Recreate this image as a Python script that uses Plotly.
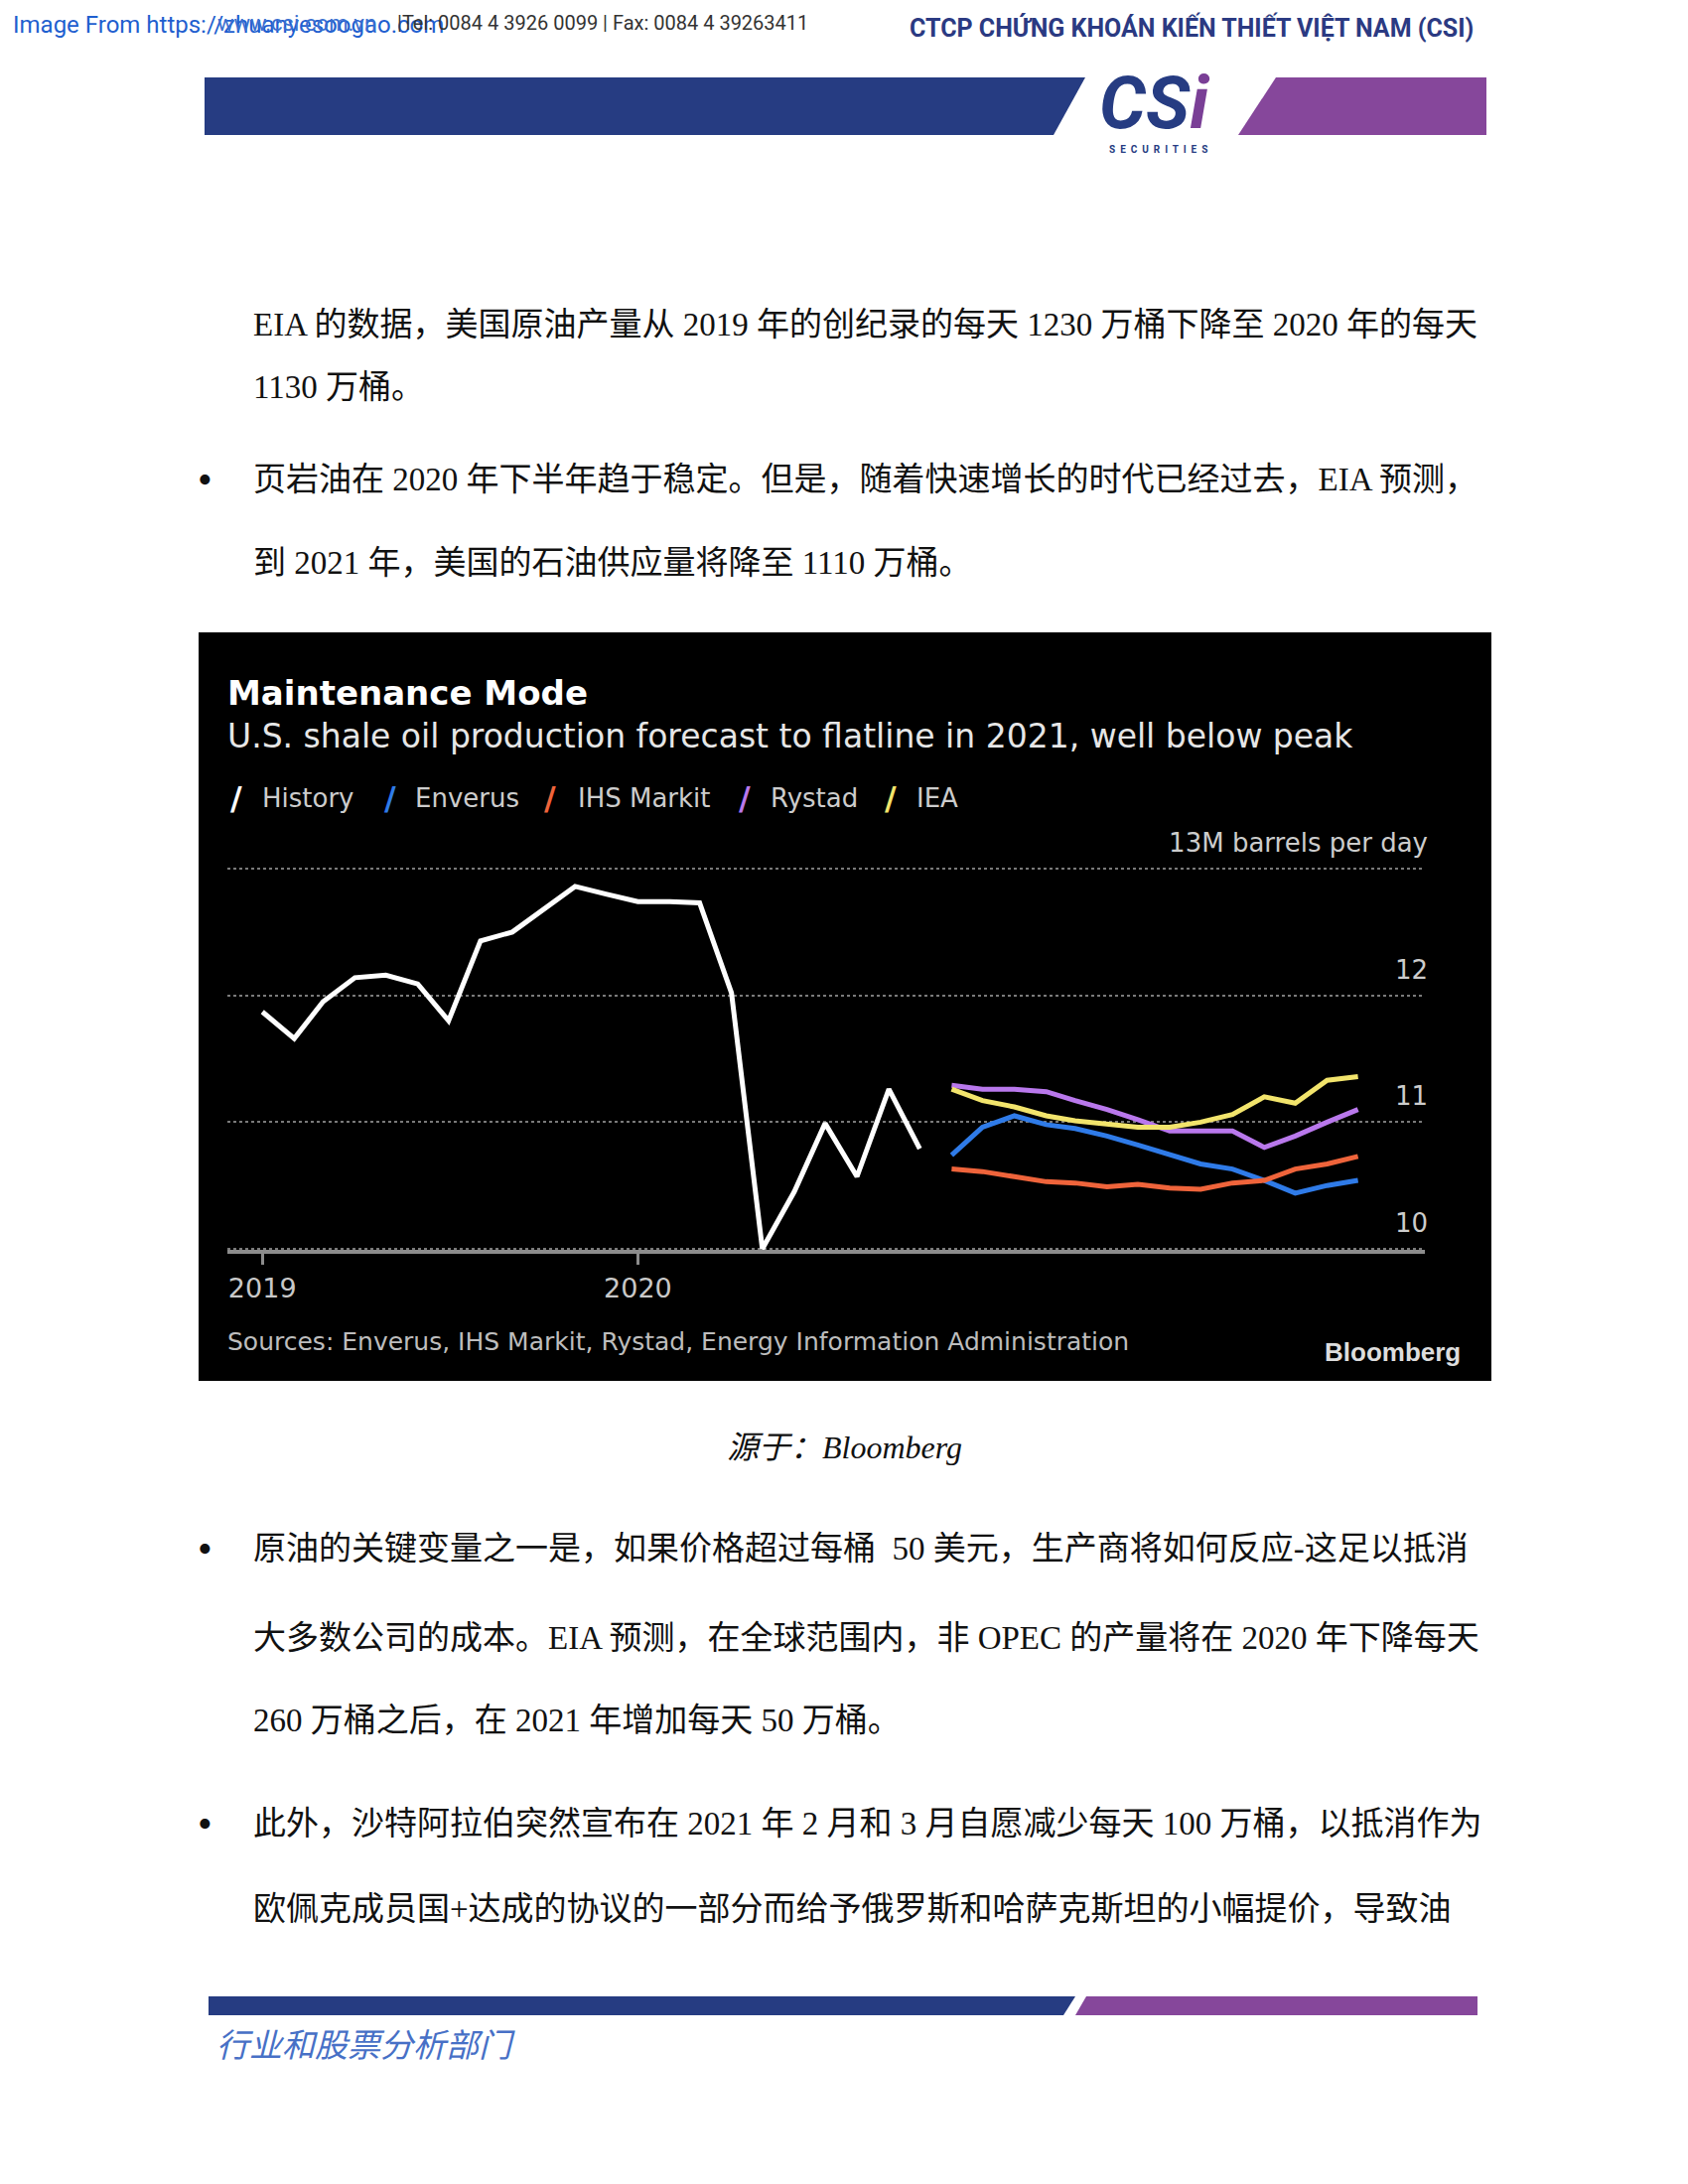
import plotly.graph_objects as go

W, H = 1700, 2200

# ---------------- data ----------------
hist_months = ["2019-01-01", "2019-02-01", "2019-03-01", "2019-04-01", "2019-05-01", "2019-06-01",
               "2019-07-01", "2019-08-01", "2019-09-01", "2019-10-01", "2019-11-01", "2019-12-01",
               "2020-01-01", "2020-02-01", "2020-03-01", "2020-04-01", "2020-05-01", "2020-06-01",
               "2020-07-01", "2020-08-01", "2020-09-01", "2020-10-01"]
history = [11.87, 11.66, 11.95, 12.14, 12.16, 12.09, 11.80, 12.43, 12.50, 12.68, 12.86, 12.80,
           12.74, 12.74, 12.73, 12.02, 10.00, 10.45, 10.99, 10.57, 11.26, 10.79]

fc_months = ["2020-11-01", "2020-12-01", "2021-01-01", "2021-02-01", "2021-03-01", "2021-04-01",
             "2021-05-01", "2021-06-01", "2021-07-01", "2021-08-01", "2021-09-01", "2021-10-01",
             "2021-11-01", "2021-12-01"]
enverus = [10.74, 10.96, 11.05, 10.98, 10.95, 10.89, 10.82, 10.74, 10.67, 10.63, 10.54, 10.44, 10.50, 10.54]
ihs_markit = [10.63, 10.61, 10.57, 10.53, 10.52, 10.49, 10.51, 10.48, 10.47, 10.52, 10.54, 10.63, 10.67, 10.73]
rystad = [11.29, 11.26, 11.26, 11.24, 11.17, 11.10, 11.02, 10.93, 10.93, 10.93, 10.80, 10.89, 11.00, 11.10]
iea = [11.26, 11.17, 11.12, 11.05, 11.01, 10.98, 10.96, 10.96, 11.00, 11.06, 11.20, 11.15, 11.33, 11.36]

series_names = ["History", "Enverus", "IHS Markit", "Rystad", "IEA"]
series_colors = ["#ffffff", "#2f7be8", "#ef643b", "#b978ec", "#f2e46c"]

y_tickvals = [10, 11, 12, 13]
y_ticktext = ["10", "11", "12", "13M barrels per day"]
x_tickvals = ["2019-01-01", "2020-01-01"]
x_ticktext = ["2019", "2020"]

# ---------------- helpers ----------------
def px(x):
    return x / W


def py(y):
    return 1 - y / H


def path(points):
    return "M " + " L ".join(f"{px(x):.5f},{py(y):.5f}" for x, y in points) + " Z"


CH_FONT = "DejaVu Sans, Verdana, sans-serif"
BODY_FONT = "Liberation Serif, Noto Sans CJK SC, serif"
HEAD_FONT = "Liberation Sans Narrow, Roboto, sans-serif"

fig = go.Figure()

series_x = [hist_months, fc_months, fc_months, fc_months, fc_months]
series_y = [history, enverus, ihs_markit, rystad, iea]
for name, col, xs, ys in zip(series_names, series_colors, series_x, series_y):
    fig.add_trace(go.Scatter(x=xs, y=ys, mode="lines", name=name,
                             line=dict(color=col, width=5),
                             showlegend=False, hoverinfo="skip"))

shapes = []
# chart background
shapes.append(dict(type="rect", xref="paper", yref="paper", x0=px(200), x1=px(1502),
                   y0=py(1391), y1=py(637), fillcolor="#000000", line=dict(width=0), layer="below"))
NAVY = "#263c82"
PURPLE = "#86479b"
# header bars
shapes.append(dict(type="path", xref="paper", yref="paper", layer="below",
                   path=path([(206, 78), (1093, 78), (1061, 136), (206, 136)]),
                   fillcolor=NAVY, line=dict(width=0)))
shapes.append(dict(type="path", xref="paper", yref="paper", layer="below",
                   path=path([(1285, 78), (1497, 78), (1497, 136), (1247, 136)]),
                   fillcolor=PURPLE, line=dict(width=0)))
# footer bars
shapes.append(dict(type="path", xref="paper", yref="paper", layer="below",
                   path=path([(210, 2011), (1083, 2011), (1071, 2030), (210, 2030)]),
                   fillcolor=NAVY, line=dict(width=0)))
shapes.append(dict(type="path", xref="paper", yref="paper", layer="below",
                   path=path([(1094, 2011), (1488, 2011), (1488, 2030), (1083, 2030)]),
                   fillcolor=PURPLE, line=dict(width=0)))

ann = []


def text(x, y, s, size, color="#111111", family=BODY_FONT, xanchor="left", yanchor="middle"):
    ann.append(dict(x=px(x), y=py(y), xref="paper", yref="paper", text=s, showarrow=False,
                    xanchor=xanchor, yanchor=yanchor,
                    font=dict(size=size, color=color, family=family)))


# header
text(11, 25, "Image From https://zhuanyesoogao.com", 24, "#1f5fcf", HEAD_FONT)
text(217, 23, "www.csi.com.vn", 22, "#3a6fd0", HEAD_FONT)
text(398, 23, "|Tel: 0084 4 3926 0099 | Fax: 0084 4 39263411", 20, "#333333", HEAD_FONT)
text(914, 27, "<b>CTCP CHỨNG KHOÁN KIẾN THIẾT VIỆT NAM (CSI)</b>", 25, "#2b3a82", HEAD_FONT)
text(1163, 104, "<b><i>CS</i><span style='color:#7a3f96'><i>i</i></span></b>", 74, NAVY,
     "Roboto, sans-serif", xanchor="center")
text(1166, 151, "<b>S  E  C  U  R  I  T  I  E  S</b>", 10, NAVY, "Roboto, sans-serif", xanchor="center")

# body text
BS = 33
BUL = 42
text(206, 483, "•", BUL, xanchor="center")
text(206, 1560, "•", BUL, xanchor="center")
text(206, 1837, "•", BUL, xanchor="center")
text(253, 327, "EIA 的数据，美国原油产量从 2019 年的创纪录的每天 1230 万桶下降至 2020 年的每天", BS)
text(253, 390, "1130 万桶。", BS)
text(253, 483, "页岩油在 2020 年下半年趋于稳定。但是，随着快速增长的时代已经过去，EIA 预测，", BS)
text(253, 567, "到 2021 年，美国的石油供应量将降至 1110 万桶。", BS)
text(850, 1458, "<i>源于：Bloomberg</i>", 32, "#111111", xanchor="center")
text(253, 1560, "原油的关键变量之一是，如果价格超过每桶  50 美元，生产商将如何反应-这足以抵消", BS)
text(253, 1650, "大多数公司的成本。EIA 预测，在全球范围内，非 OPEC 的产量将在 2020 年下降每天", BS)
text(253, 1733, "260 万桶之后，在 2021 年增加每天 50 万桶。", BS)
text(253, 1837, "此外，沙特阿拉伯突然宣布在 2021 年 2 月和 3 月自愿减少每天 100 万桶，以抵消作为", BS)
text(253, 1923, "欧佩克成员国+达成的协议的一部分而给予俄罗斯和哈萨克斯坦的小幅提价，导致油", BS)
text(216, 2058, "<i>行业和股票分析部门</i>", 33, "#4770c6", "Noto Sans CJK SC, sans-serif")

# chart texts
text(227, 698, "<b>Maintenance Mode</b>", 34, "#ffffff", CH_FONT)
text(227, 741, "U.S. shale oil production forecast to flatline in 2021, well below peak", 33, "#e6e6e6", CH_FONT)
slash_x = [238, 393, 554, 750, 897]
label_x = [262, 416, 580, 774, 921]
for name, col, sx, lx in zip(series_names, series_colors, slash_x, label_x):
    text(sx, 804, "<b>/</b>", 32, col, CH_FONT, xanchor="center")
    text(lx, 804, name, 26, "#cccccc", CH_FONT)
text(227, 1351, "Sources: Enverus, IHS Markit, Rystad, Energy Information Administration", 25, "#bdbdbd", CH_FONT)
text(1473, 1362, "<b>Bloomberg</b>", 26, "#dddddd", "Liberation Sans, Roboto, sans-serif", xanchor="right")

fig.update_layout(
    width=W, height=H, autosize=False,
    margin=dict(l=0, r=0, t=0, b=0),
    paper_bgcolor="#ffffff", plot_bgcolor="rgba(0,0,0,0)",
    shapes=shapes, annotations=ann, showlegend=False,
    xaxis=dict(domain=[px(229), px(1435)], type="date",
               range=["2018-11-28", "2022-02-04"],
               tickvals=x_tickvals, ticktext=x_ticktext,
               ticks="outside", ticklen=11, tickwidth=3, tickcolor="#8c8c8c",
               showline=True, linecolor="#8c8c8c", linewidth=4,
               showgrid=False, zeroline=False,
               tickfont=dict(size=27, color="#c8c8c8", family=CH_FONT)),
    yaxis=dict(domain=[py(1259.3), py(811.2)], range=[9.99, 13.5],
               side="right", tickvals=y_tickvals, ticktext=y_ticktext,
               ticklabelposition="inside top", ticks="",
               ticklabelshift=-8, ticklabelstandoff=-6,
               showgrid=True, gridcolor="#7a7a7a", griddash="dot", gridwidth=2,
               zeroline=False, showline=False,
               tickfont=dict(size=26, color="#cccccc", family=CH_FONT)),
)

fig.write_html("out.html", config={"displayModeBar": False},
               post_script="document.body.style.margin='0';")
